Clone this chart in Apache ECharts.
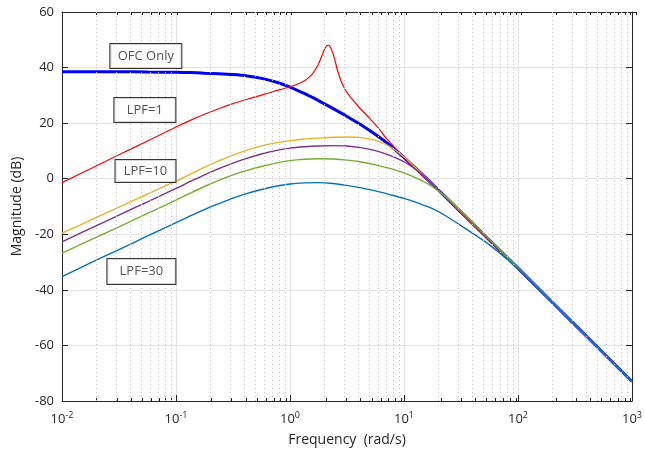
<!DOCTYPE html>
<html><head><meta charset="utf-8">
<script src="https://cdn.jsdelivr.net/npm/echarts@6/dist/echarts.min.js"></script>
<style>html,body{margin:0;padding:0;background:#fff}#c{width:645px;height:455px}</style>
</head><body><div id="c"></div>
<script>
// Frequency samples (rad/s)
const freq = [0.01,0.01778,0.03162,0.05623,0.1,0.1334,0.1778,0.2371,0.3162,0.4217,0.5623,0.7499,1,1.334,1.778,2.371,3.162,4.217,5.623,7.499,10,13.34,17.78,23.71,31.62,56.23,100,177.8,316.2,562.3,1000];
// Magnitudes (dB)
const ofcOnly   = [38.5,38.5,38.5,38.4,38.3,38.2,38.0,37.8,37.5,37.0,36.1,34.8,33.0,30.7,28.1,25.3,22.4,19.3,15.9,12.1,7.6,2.9,-2.0,-7.0,-12.0,-22.1,-32.2,-42.4,-52.6,-62.8,-73.0];
const lpfYellow = [-19.6,-14.9,-10.2,-5.5,-0.9,1.6,4.1,6.4,8.5,10.3,11.8,12.9,13.7,14.3,14.6,14.9,15.0,14.8,13.8,11.6,7.8,3.0,-1.9,-6.9,-12.0,-22.1,-32.2,-42.4,-52.6,-62.8,-73.0];
const lpfPurple = [-22.7,-17.9,-13.1,-8.3,-3.5,-1.0,1.4,3.6,5.6,7.4,8.9,10.1,11.0,11.5,11.8,11.9,11.8,11.2,10.1,8.4,6.1,2.6,-2.0,-7.0,-12.0,-22.1,-32.2,-42.4,-52.6,-62.8,-73.0];
const lpfGreen  = [-26.8,-22.0,-17.3,-12.5,-7.7,-5.2,-2.8,-0.6,1.4,3.0,4.4,5.6,6.5,7.0,7.2,7.1,6.7,6.0,5.0,3.7,2.1,-0.1,-2.9,-6.8,-11.6,-21.8,-32.1,-42.4,-52.6,-62.8,-73.0];
const lpfCyan   = [-35.2,-30.3,-25.5,-20.6,-15.8,-13.4,-11.1,-9.0,-7.0,-5.3,-3.9,-2.7,-1.9,-1.5,-1.4,-1.7,-2.4,-3.3,-4.4,-5.7,-7.1,-8.8,-10.8,-13.6,-16.9,-23.8,-32.5,-42.6,-52.6,-62.8,-73.0];
// Red curve (LPF=1) with its own, denser sampling near the resonance
const redFreq = [0.01,0.01778,0.03162,0.05623,0.1,0.1334,0.1778,0.2371,0.3162,0.4217,0.5623,0.7499,1,1.26,1.54,1.76,1.94,2.05,2.16,2.25,2.41,2.63,2.9,3.2,4,5,6,7,9,10,13.34,17.78,23.71,31.62,56.23,100,177.8,316.2,562.3,1000];
const redMag  = [-1.4,3.6,8.6,13.6,18.6,21.0,23.2,25.2,27.0,28.6,30.1,31.6,33.1,34.6,37.3,40.9,45.1,47.3,48.1,47.5,44.5,38.5,33.7,30.7,25.9,21.7,18.1,14.5,9.7,7.8,2.6,-2.3,-7.2,-12.2,-22.3,-32.4,-42.5,-52.7,-62.9,-73.1];
// Annotations
const annoText = ['OFC Only','LPF=1','LPF=10','LPF=30'];
const annoFreq = [0.0544,0.0533,0.054,0.0497];
const annoMag  = [44.2,24.7,2.8,-33.4];
// Axis ticks
const yTicks = [-80,-60,-40,-20,0,20,40,60];
const xDecades = [-2,-1,0,1,2,3];

const annoBoxW = [73,63,62,70];
const annoBoxH = [26,26,24,27];

const minorLog = [], minorVal = [];
xDecades.slice(0,-1).forEach(d => { for (let m = 2; m <= 9; m++) { minorLog.push(d + Math.log10(m)); minorVal.push(Number((m * Math.pow(10, d)).toPrecision(3))); } });
const allLog = xDecades.concat(minorLog);

const pair = (xs, ys) => xs.map((x, i) => [x, ys[i]]);
const FONT = 'Open Sans';
const TXT = '#262626';

const chart = echarts.init(document.getElementById('c'), null, {renderer: 'canvas'});
const G = {left: 62, right: 9, top: 12, bottom: 54};
const lineSeries = (name, xs, ys, color, w) => ({
  name, type: 'line', xAxisIndex: 0, yAxisIndex: 0, data: pair(xs, ys),
  showSymbol: false, symbol: 'none', smooth: 0.3, lineStyle: {color, width: w}, z: 3
});

chart.setOption({
  animation: false,
  backgroundColor: '#fff',
  grid: [Object.assign({show: false}, G), Object.assign({show: false}, G)],
  xAxis: [
    { type: 'log', logBase: 10, min: 0.01, max: 1000, gridIndex: 0, position: 'bottom',
      axisLine: {show: true, onZero: false, lineStyle: {color: TXT, width: 1}},
      axisTick: {show: true, inside: true, length: 6, lineStyle: {color: TXT}},
      splitLine: {show: true, lineStyle: {color: '#e3e3e3', width: 1}},
      axisLabel: {margin: 10, color: TXT, fontFamily: FONT, fontSize: 13,
        formatter: v => '10{s|' + Math.round(Math.log10(v)) + '}',
        rich: {s: {fontSize: 9, fontFamily: FONT, color: TXT, padding: [0, 0, 8, 0]}}},
      name: 'Frequency  (rad/s)', nameLocation: 'middle', nameGap: 32,
      nameTextStyle: {color: TXT, fontFamily: FONT, fontSize: 14}
    },
    { type: 'value', min: -2, max: 3, gridIndex: 1, position: 'bottom',
      axisLine: {show: false, onZero: false}, axisLabel: {show: false},
      axisTick: {show: true, inside: true, length: 3, customValues: minorLog, lineStyle: {color: TXT}},
      splitLine: {show: false}
    },
    { type: 'value', min: -2, max: 3, gridIndex: 1, position: 'top',
      axisLine: {show: true, onZero: false, lineStyle: {color: TXT, width: 1}}, axisLabel: {show: false},
      axisTick: {show: true, inside: true, length: 3, customValues: allLog, lineStyle: {color: TXT}},
      splitLine: {show: false}
    }
  ],
  yAxis: [
    { type: 'value', min: -80, max: 60, interval: 20, gridIndex: 0, position: 'left',
      axisLine: {show: true, onZero: false, lineStyle: {color: TXT, width: 1}},
      axisTick: {show: true, inside: true, length: 6, lineStyle: {color: TXT}},
      splitLine: {show: true, lineStyle: {color: '#e3e3e3', width: 1}},
      axisLabel: {margin: 8, color: TXT, fontFamily: FONT, fontSize: 13, customValues: yTicks},
      name: 'Magnitude (dB)', nameLocation: 'middle', nameGap: 37,
      nameTextStyle: {color: TXT, fontFamily: FONT, fontSize: 14}
    },
    { type: 'value', min: -80, max: 60, interval: 20, gridIndex: 0, position: 'right',
      axisLine: {show: true, onZero: false, lineStyle: {color: TXT, width: 1}},
      axisTick: {show: true, inside: true, length: 6, lineStyle: {color: TXT}},
      splitLine: {show: false}, axisLabel: {show: false}
    },
    { type: 'value', min: -80, max: 60, gridIndex: 1, show: false }
  ],
  series: [
    { type: 'line', xAxisIndex: 0, yAxisIndex: 0, data: [], z: 1, silent: true,
      markLine: { symbol: ['none', 'none'], silent: true, animation: false, label: {show: false},
        lineStyle: {color: '#c4c4c4', width: 1, type: [1, 3]},
        data: minorVal.map(v => ({xAxis: v})) } },
    lineSeries('OFC Only', freq, ofcOnly, '#0000FF', 3),
    lineSeries('LPF=1', redFreq, redMag, '#FF0000', 1.2),
    lineSeries('LPF a', freq, lpfYellow, '#EDB120', 1.4),
    lineSeries('LPF b', freq, lpfPurple, '#7E2F8E', 1.4),
    lineSeries('LPF c', freq, lpfGreen, '#77AC30', 1.4),
    lineSeries('LPF=30', freq, lpfCyan, '#0072BD', 1.4),
    { type: 'scatter', xAxisIndex: 0, yAxisIndex: 0, symbolSize: 0, z: 5, silent: true,
      itemStyle: {color: 'rgba(0,0,0,0)'},
      data: annoText.map((t, i) => ({
        name: t, value: [annoFreq[i], annoMag[i]],
        label: {width: annoBoxW[i] - 2, height: annoBoxH[i] - 2}
      })),
      label: {show: true, position: 'inside', formatter: p => p.name,
        color: TXT, fontFamily: FONT, fontSize: 13, align: 'center', verticalAlign: 'middle',
        backgroundColor: '#fff', borderColor: '#000', borderWidth: 1, padding: 0,
        lineHeight: 16}
    }
  ]
});
</script></body></html>
